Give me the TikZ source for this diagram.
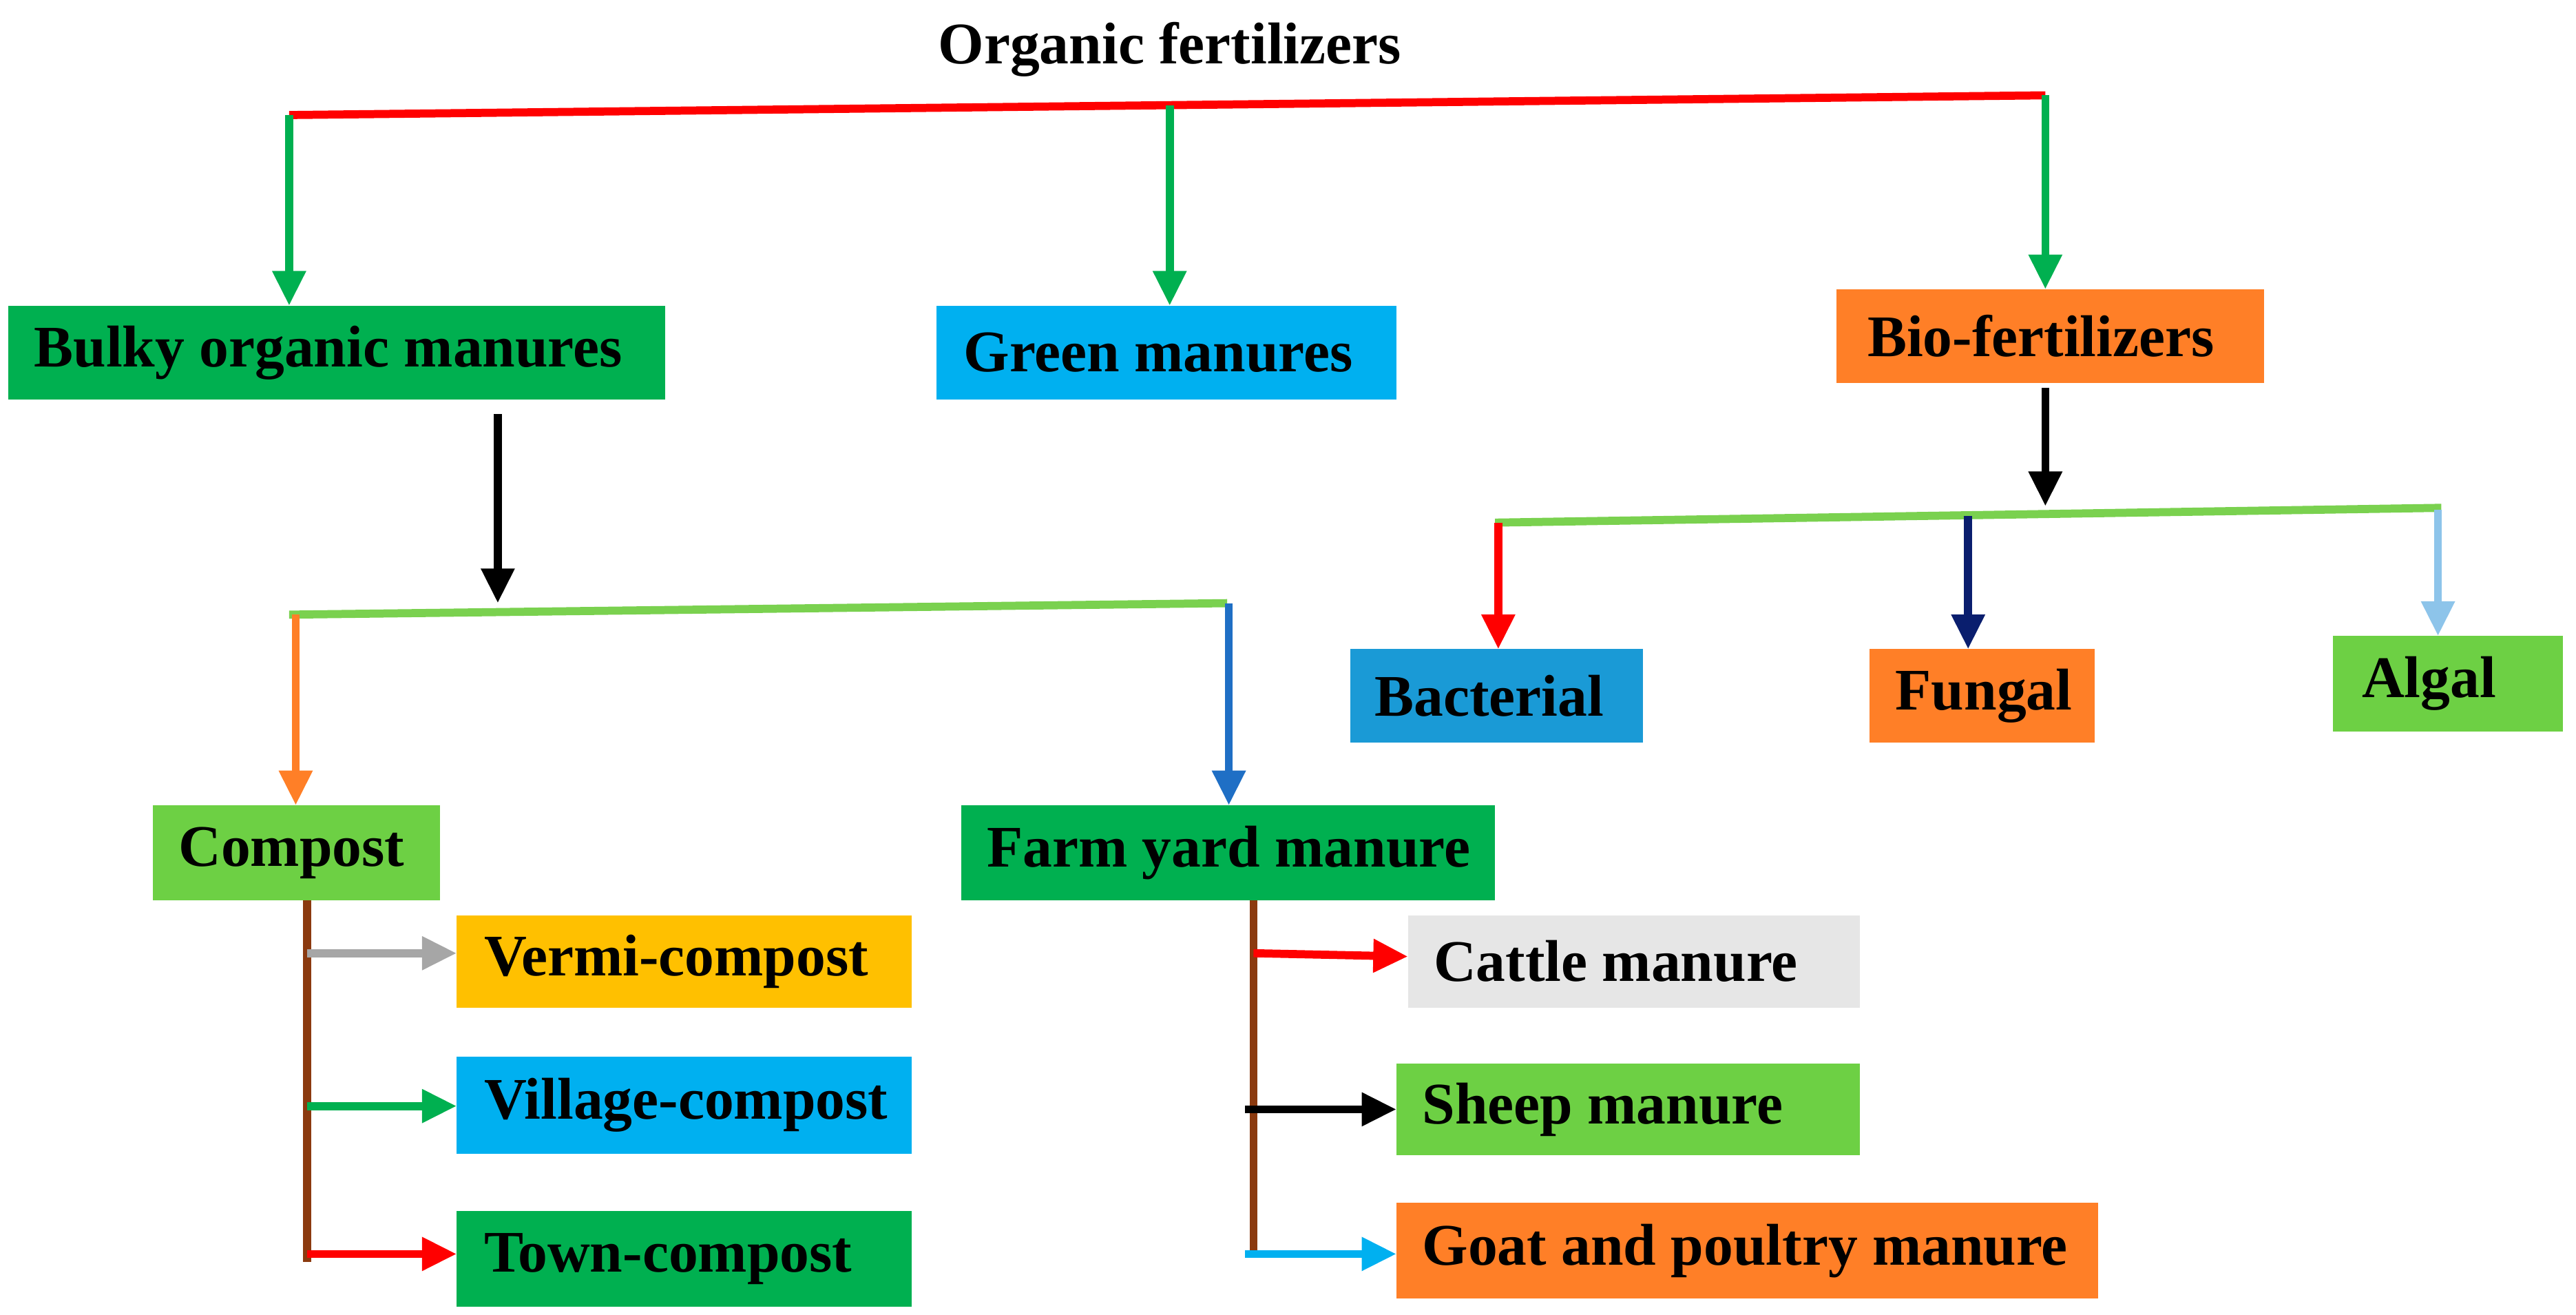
\documentclass[tikz,border=0pt]{standalone}
\usepackage{fontspec}
\setmainfont{Liberation Serif}
\usetikzlibrary{arrows.meta}
\definecolor{dgreen}{HTML}{00B050}
\definecolor{lgreen}{HTML}{6DD044}
\definecolor{cyanb}{HTML}{00B0F0}
\definecolor{orng}{HTML}{FF7F27}
\definecolor{ylw}{HTML}{FFC000}
\definecolor{gry}{HTML}{E6E6E6}
\definecolor{bact}{HTML}{1A9AD6}
\definecolor{brn}{HTML}{8B3A0F}
\definecolor{lineg}{HTML}{7AD14F}
\definecolor{navy}{HTML}{0A1E6E}
\definecolor{lblue}{HTML}{8DC4EA}
\definecolor{mblue}{HTML}{1F6FC5}
\tikzset{
 bx/.style={anchor=north west, inner sep=0pt, font=\fontsize{10.2}{12}\selectfont\bfseries},
 arr/.style={line width=1.4pt,-{Triangle[width=5.5pt,length=6pt]}},
 ln/.style={line width=1.4pt}
}
\newcommand{\mybox}[8]{% name, x1,y1,x2,y2, color, textx, text
 \fill[#6] (#2,#3) rectangle (#4,#5);
 \node[anchor=west, inner sep=0pt, font=\fontsize{10.2}{12}\selectfont\bfseries] (#1) at (#7,{(#3+#5)/2}) {#8};
 \coordinate (#1t) at ({(#2+#4)/2},#3);}
\begin{document}
\begin{tikzpicture}[x=0.01cm,y=-0.01cm]
\useasboundingbox (0,0) rectangle (1568,800);
\node[font=\fontsize{10.2}{12}\selectfont\bfseries] (title) at (712,30) {Organic fertilizers};
\mybox{bulky}{5}{186}{405}{243}{dgreen}{20}{Bulky organic manures}
\mybox{green}{570}{186}{850}{243}{cyanb}{586}{Green manures}
\mybox{bio}{1118}{176}{1378}{233}{orng}{1136}{Bio-fertilizers}
\mybox{comp}{93}{490}{268}{548}{lgreen}{108}{Compost}
\mybox{fym}{585}{490}{910}{548}{dgreen}{600}{Farm yard manure}
\mybox{verm}{278}{557}{555}{613}{ylw}{294}{Vermi-compost}
\mybox{vill}{278}{643}{555}{702}{cyanb}{294}{Village-compost}
\mybox{town}{278}{737}{555}{795}{dgreen}{294}{Town-compost}
\mybox{cat}{857}{557}{1132}{613}{gry}{872}{Cattle manure}
\mybox{shp}{850}{647}{1132}{703}{lgreen}{865}{Sheep manure}
\mybox{goat}{850}{732}{1277}{790}{orng}{865}{Goat and poultry manure}
\mybox{bac}{822}{395}{1000}{452}{bact}{836}{Bacterial}
\mybox{fun}{1138}{395}{1275}{452}{orng}{1153}{Fungal}
\mybox{alg}{1420}{387}{1560}{445}{lgreen}{1437}{Algal}
% top level
\coordinate (r1) at (176,70); \coordinate (r2) at (712,64); \coordinate (r3) at (1245,58);
\draw[ln,red] (r1) -- (r3);
\draw[arr,dgreen] (r1) -- (176,186);
\draw[arr,dgreen] (r2) -- (712,186);
\draw[arr,dgreen] (r3) -- (1245,176);
% bulky branch
\coordinate (b0) at (303,252);
\draw[arr,black] (b0) -- (303,367);
\coordinate (g1) at (176,374); \coordinate (g2) at (747,367);
\draw[ln,lineg] (g1) -- (g2);
\draw[arr,orng] (180,374) -- (180,490);
\draw[arr,mblue] (748,367) -- (748,490);
% compost
\draw[ln,brn] (187,548) -- (187,768);
\draw[arr,gray!70] (187,580) -- (278,580);
\draw[arr,dgreen] (187,673) -- (278,673);
\draw[arr,red] (187,763) -- (278,763);
% fym
\draw[ln,brn] (763,548) -- (763,762);
\draw[arr,red] (763,580) -- (857,582);
\draw[arr,black] (758,675) -- (850,675);
\draw[arr,cyanb] (758,763) -- (850,763);
% bio
\draw[arr,black] (1245,236) -- (1245,308);
\draw[ln,lineg] (910,318) -- (1486,309);
\draw[arr,red] (912,318) -- (912,395);
\draw[arr,navy] (1198,314) -- (1198,395);
\draw[arr,lblue] (1484,310) -- (1484,387);
\end{tikzpicture}
\end{document}
